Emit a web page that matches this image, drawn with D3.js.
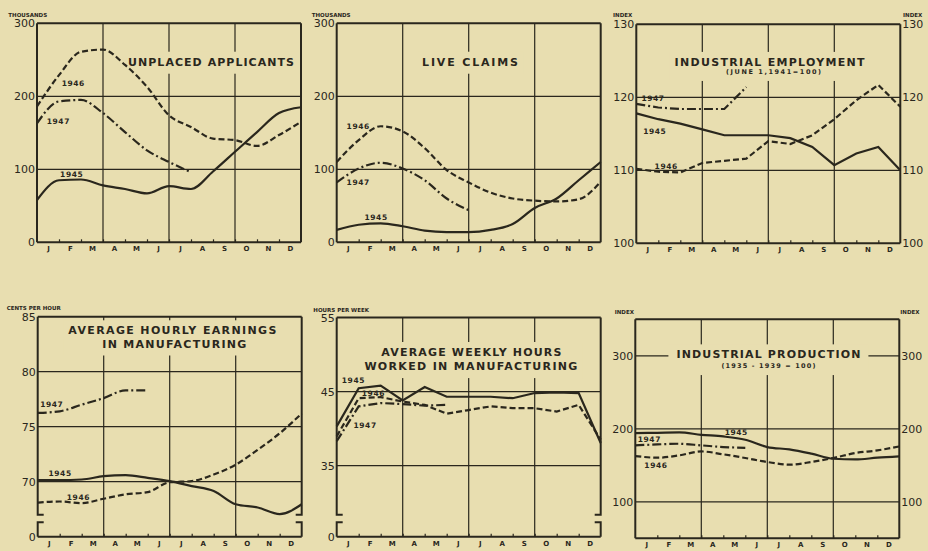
<!DOCTYPE html>
<html>
<head>
<meta charset="utf-8">
<script src="https://cdn.jsdelivr.net/npm/d3@7"></script>
<style>
  body { margin: 0; background: #e8deb0; }
  svg { display: block; }
  text { font-family: "DejaVu Sans", sans-serif; fill: #2a271d; }
</style>
</head>
<body>
<div id="chart"></div>
<script>
// month labels sit between the 13 month-start points (0..12)
var months = ["J", "F", "M", "A", "M", "J", "J", "A", "S", "O", "N", "D"];
var years = ["1945", "1946", "1947"];

// unplaced applicants, thousands
var unplaced1945 = [58, 85, 86, 78, 73, 67, 77, 73, 97, 124, 151, 177, 185];
var unplaced1946 = [186, 229, 261, 264, 243, 213, 174, 158, 142, 140, 132, 147, 165];
var unplaced1947 = [163, 193, 195, 177, 151, 126, 110, 96];

// live claims, thousands
var claims1945 = [17, 24, 26, 22, 16, 14, 14, 17, 25, 47, 60, 85, 110];
var claims1946 = [110, 140, 159, 152, 129, 99, 82, 68, 60, 57, 56, 59, 83];
var claims1947 = [82, 101, 109, 101, 85, 60, 44];

// industrial employment, index June 1 1941 = 100
var employ1945 = [117.8, 117.0, 116.4, 115.6, 114.8, 114.8, 114.8, 114.4, 113.2, 110.7, 112.3, 113.2, 110.0];
var employ1946 = [110.2, 109.8, 109.7, 111.0, 111.3, 111.6, 114.0, 113.6, 114.8, 117.0, 119.6, 121.7, 118.7];
var employ1947 = [119.1, 118.6, 118.4, 118.4, 118.4, 121.4];

// average hourly earnings, cents per hour
var earnings1945 = [70.15, 70.15, 70.2, 70.5, 70.6, 70.35, 70.05, 69.6, 69.15, 67.95, 67.65, 67.05, 67.95];
var earnings1946 = [68.1, 68.2, 68.05, 68.45, 68.85, 69.05, 69.95, 70.05, 70.65, 71.55, 72.9, 74.4, 76.2];
var earnings1947 = [76.25, 76.4, 77.0, 77.6, 78.3, 78.3];

// average weekly hours
var hours1945 = [40.3, 45.45, 45.8, 43.8, 45.6, 44.3, 44.3, 44.3, 44.1, 44.8, 44.9, 44.8, 38.05];
var hours1946 = [38.95, 44.1, 44.25, 43.65, 43.2, 42.0, 42.5, 43.0, 42.75, 42.75, 42.3, 43.2, 38.5];
var hours1947 = [38.3, 43.0, 43.45, 43.3, 43.1, 43.2];

// industrial production, 1935-1939 = 100
var production1945 = [194.1, 194.5, 195, 191.8, 189.5, 185, 175, 171.8, 166, 159, 158, 160.4, 162.2];
var production1946 = [162.7, 160.4, 163.6, 169, 165, 160, 154.5, 150.9, 154.5, 160, 166.8, 170.4, 175.9];
var production1947 = [177.3, 178.6, 179.5, 177.3, 175, 174];

var ink = "#2a271d", paper = "#e8deb0";
var dashFor = {"1945": null, "1946": "6,3", "1947": "9,3,2,3"};

var panels = [
  {left: 37, top: 23.3, bottom: 242.3, domain: [0, 300], ticks: [0, 100, 200, 300], grid: [100, 200],
   series: [unplaced1945, unplaced1946, unplaced1947], curve: d3.curveMonotoneX,
   unit: "THOUSANDS", unitDx: -28.7, unitDy: -6.6,
   title: [{text: "UNPLACED APPLICANTS", x: 7.91, v: 241.9, len: 166, size: 11}],
   labels: [[1.58, 93.5], [1.65, 218], [0.97, 165]]},
  {left: 336.7, top: 23.3, bottom: 242.3, domain: [0, 300], ticks: [0, 100, 200, 300], grid: [100, 200],
   series: [claims1945, claims1946, claims1947], curve: d3.curveMonotoneX,
   unit: "THOUSANDS", unitDx: -25, unitDy: -6.6,
   title: [{text: "LIVE CLAIMS", x: 6.06, v: 241.9, len: 96, size: 11}],
   labels: [[1.79, 34], [0.98, 159], [0.98, 82]]},
  {left: 636.3, top: 24.3, bottom: 243.3, domain: [100, 130], ticks: [100, 110, 120, 130], grid: [110, 120],
   series: [employ1945, employ1946, employ1947], curve: d3.curveLinear, right: true,
   unit: "INDEX", unitDx: -23.3, unitDy: -7, unitRightDx: 2.7,
   title: [{text: "INDUSTRIAL  EMPLOYMENT", x: 6.06, v: 124.3, len: 190, size: 11},
           {text: "(JUNE 1,1941=100)", x: 6.24, v: 123.2, len: 95, size: 6.5}],
   labels: [[0.84, 115.4], [1.36, 110.6], [0.76, 119.8]]},
  {left: 37.7, top: 316.7, bottom: 536.7, domain: [65, 85], ticks: [65, 70, 75, 80, 85], grid: [70, 75, 80],
   series: [earnings1945, earnings1946, earnings1947], curve: d3.curveMonotoneX, broken: true,
   unit: "CENTS PER HOUR", unitDx: -31, unitDy: -6.7,
   title: [{text: "AVERAGE HOURLY EARNINGS", x: 6.12, v: 83.4, len: 208, size: 11},
           {text: "IN MANUFACTURING", x: 6.21, v: 82.2, len: 144, size: 11}],
   labels: [[1.02, 70.75], [1.85, 68.6], [0.64, 77.0]]},
  {left: 336.7, top: 317.5, bottom: 536.7, domain: [25.4, 55], ticks: [25.4, 35, 45, 55], grid: [35, 45],
   series: [hours1945, hours1946, hours1947], curve: d3.curveLinear, broken: true,
   unit: "HOURS PER WEEK", unitDx: -23.4, unitDy: -5.2,
   title: [{text: "AVERAGE WEEKLY HOURS", x: 6.12, v: 49.8, len: 180, size: 11},
           {text: "WORKED IN MANUFACTURING", x: 6.1, v: 47.9, len: 213, size: 11}],
   labels: [[0.76, 46.45], [1.67, 44.7], [1.29, 40.4]]},
  {left: 635.3, top: 319.3, bottom: 538.3, domain: [50, 350], ticks: [100, 200, 300], grid: [100, 200, 300],
   series: [production1945, production1946, production1947], curve: d3.curveMonotoneX, right: true,
   unit: "INDEX", unitDx: -20.6, unitDy: -5.3, unitRightDx: 1,
   title: [{text: "INDUSTRIAL  PRODUCTION", x: 6.05, v: 296.5, len: 184, size: 11, padX: 8},
           {text: "(1935 - 1939 = 100)", x: 6.05, v: 283.2, len: 94, size: 6.5}],
   labels: [[4.59, 195.5], [0.94, 150], [0.64, 186]]}
];

var panelWidth = 264;

var svg = d3.select("#chart").append("svg")
  .attr("width", 928)
  .attr("height", 551)
  .style("background", paper);

panels.forEach(drawPanel);

function drawPanel(p) {
  var x = d3.scaleLinear().domain([0, 12]).range([p.left, p.left + panelWidth]);
  var y = d3.scaleLinear().domain(p.domain).range([p.bottom, p.top]);
  var x0 = x(0), x1 = x(12);
  var g = svg.append("g");

  // grid lines
  g.selectAll(".hgrid").data(p.grid).enter().append("line")
    .attr("x1", x0).attr("x2", x1)
    .attr("y1", function(d) { return y(d); }).attr("y2", function(d) { return y(d); })
    .attr("stroke", ink).attr("stroke-width", 1.2);
  g.selectAll(".vgrid").data([3, 6, 9]).enter().append("line")
    .attr("x1", function(d) { return x(d); }).attr("x2", function(d) { return x(d); })
    .attr("y1", p.top).attr("y2", p.bottom)
    .attr("stroke", ink).attr("stroke-width", 1.2);

  // title, with a paper patch that breaks the grid behind it
  var tg = g.append("g");
  var patch = tg.append("rect").attr("fill", paper);
  p.title.forEach(function(t) {
    tg.append("text")
      .attr("x", x(t.x)).attr("y", y(t.v))
      .attr("text-anchor", "middle")
      .attr("font-size", t.size).attr("font-weight", "bold")
      .attr("textLength", t.len).attr("lengthAdjust", "spacing")
      .text(t.text);
  });
  var bb = tg.node().getBBox();
  var padX = p.title[0].padX || 5;
  var py0 = Math.max(bb.y - 4, p.top + 1);
  patch.attr("x", bb.x - padX).attr("y", py0)
    .attr("width", bb.width + 2 * padX).attr("height", bb.y + bb.height + 5 - py0);

  // frame
  var frame = d3.path();
  frame.moveTo(x0, p.top); frame.lineTo(x1, p.top);
  frame.moveTo(x0, p.bottom); frame.lineTo(x1, p.bottom);
  if (p.broken) {
    var bTop = p.bottom - 22, bBot = p.bottom - 14.5;
    [[x0, 6], [x1, -6]].forEach(function(s) {
      frame.moveTo(s[0], p.top); frame.lineTo(s[0], bTop); frame.lineTo(s[0] + s[1], bTop);
      frame.moveTo(s[0] + s[1], bBot); frame.lineTo(s[0], bBot); frame.lineTo(s[0], p.bottom);
    });
  } else {
    frame.moveTo(x0, p.top); frame.lineTo(x0, p.bottom);
    frame.moveTo(x1, p.top); frame.lineTo(x1, p.bottom);
  }
  g.append("path").attr("d", frame.toString())
    .attr("fill", "none").attr("stroke", ink).attr("stroke-width", 2);

  // value axes
  var fmt = function(d) { return p.broken && d === p.domain[0] ? "0" : String(d); };
  var left = g.append("g").attr("transform", "translate(" + x0 + ",0)")
    .call(d3.axisLeft(y).tickValues(p.ticks).tickSize(0).tickPadding(2).tickFormat(fmt));
  left.select(".domain").remove();
  left.selectAll("text").attr("font-size", 11).attr("font-family", null).attr("fill", ink);
  if (p.right) {
    var right = g.append("g").attr("transform", "translate(" + x1 + ",0)")
      .call(d3.axisRight(y).tickValues(p.ticks).tickSize(0).tickPadding(2).tickFormat(fmt));
    right.select(".domain").remove();
    right.selectAll("text").attr("font-size", 11).attr("font-family", null).attr("fill", ink);
  }

  // month ticks and labels
  var ticks = g.append("g").attr("transform", "translate(0," + p.bottom + ")")
    .call(d3.axisBottom(x).tickValues(d3.range(1, 12)).tickSize(-3).tickFormat(""));
  ticks.select(".domain").remove();
  ticks.selectAll("line").attr("stroke", ink).attr("stroke-width", 1.2);
  var lab = g.append("g").attr("transform", "translate(0," + p.bottom + ")")
    .call(d3.axisBottom(x).tickValues(d3.range(0.5, 12, 1)).tickSize(0).tickPadding(4)
      .tickFormat(function(d) { return months[Math.floor(d)]; }));
  lab.select(".domain").remove();
  lab.selectAll("text").attr("font-size", 7).attr("font-weight", "bold")
    .attr("font-family", null).attr("fill", ink);

  // unit captions
  g.append("text").attr("x", x0 + p.unitDx).attr("y", p.top + p.unitDy)
    .attr("font-size", 5.5).attr("font-weight", "bold").text(p.unit);
  if (p.right) {
    g.append("text").attr("x", x1 + p.unitRightDx).attr("y", p.top + p.unitDy)
      .attr("font-size", 5.5).attr("font-weight", "bold").text(p.unit);
  }

  // series
  var line = d3.line()
    .x(function(d, i) { return x(i); })
    .y(function(d) { return y(d); })
    .curve(p.curve);
  p.series.forEach(function(s, k) {
    g.append("path").attr("d", line(s))
      .attr("fill", "none").attr("stroke", ink).attr("stroke-width", 2.2)
      .attr("stroke-dasharray", dashFor[years[k]]);
  });

  // year labels
  p.labels.forEach(function(l, k) {
    g.append("text")
      .attr("x", x(l[0])).attr("y", y(l[1])).attr("dy", "0.35em")
      .attr("text-anchor", "middle")
      .attr("font-size", 7.5).attr("font-weight", "bold").attr("letter-spacing", 0.6)
      .text(years[k]);
  });
}
</script>
</body>
</html>
